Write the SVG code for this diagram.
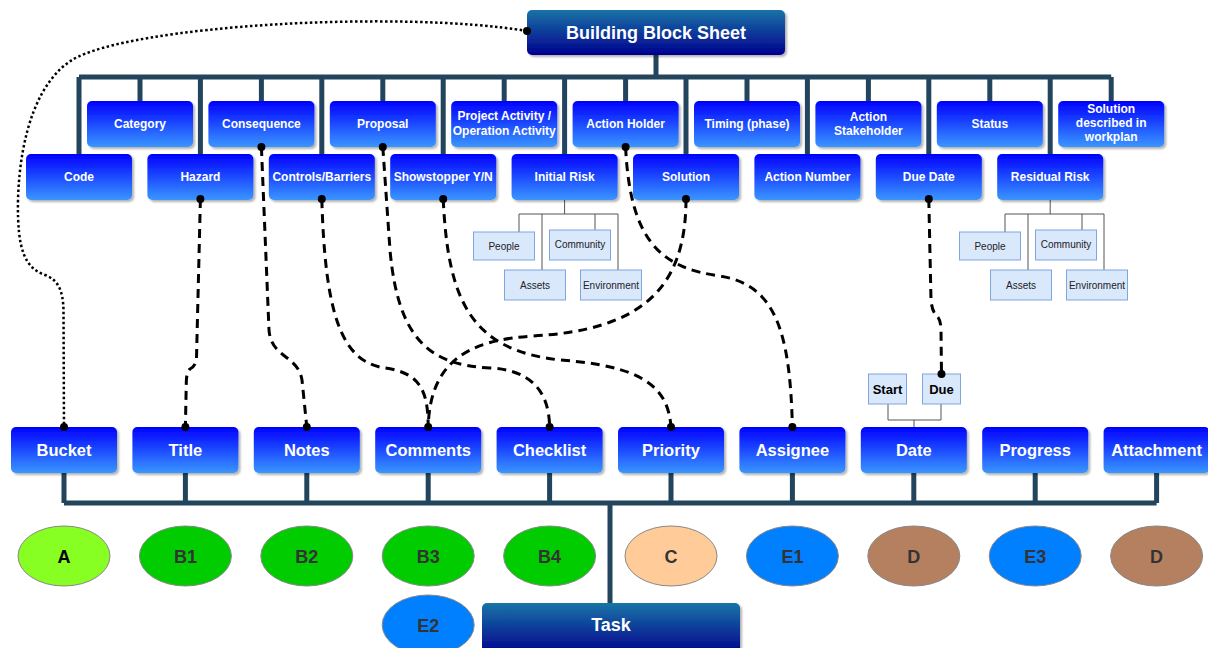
<svg xmlns="http://www.w3.org/2000/svg" width="1208" height="648" viewBox="0 0 1208 648">
<defs>
<linearGradient id="gBlue" x1="0" y1="0" x2="0" y2="1"><stop offset="0" stop-color="#0000ff"/><stop offset="1" stop-color="#3a96ff"/></linearGradient>
<linearGradient id="gHead" x1="0" y1="0" x2="0" y2="1"><stop offset="0" stop-color="#1a74a6"/><stop offset="1" stop-color="#00008e"/></linearGradient>
<filter id="sh" x="-10%" y="-10%" width="130%" height="140%"><feDropShadow dx="2" dy="2" stdDeviation="1" flood-color="#000" flood-opacity="0.3"/></filter>
</defs>
<style>
.n rect{fill:url(#gBlue);filter:url(#sh)}
.n text{fill:#fff;font-family:"Liberation Sans",Arial,sans-serif;font-weight:bold;font-size:12px;text-anchor:middle}
.b text{font-size:16.5px}
.h rect{fill:url(#gHead);filter:url(#sh)}
.h text{fill:#fff;font-family:"Liberation Sans",Arial,sans-serif;font-weight:bold;font-size:18px;text-anchor:middle}
.s rect{fill:#dae8fc;stroke:#7ea6e0;stroke-width:1}
.s text{fill:#222;font-family:"Liberation Sans",Arial,sans-serif;font-size:10px;text-anchor:middle}
.sd text{font-weight:bold;font-size:13px;fill:#000}
.e ellipse{stroke:#888;stroke-width:1}
.e text{fill:#333;font-family:"Liberation Sans",Arial,sans-serif;font-weight:bold;font-size:18px;text-anchor:middle}
.bar{fill:none;stroke:#23445d;stroke-width:5}
.tree{fill:none;stroke:#555;stroke-width:1}
.dash{fill:none;stroke:#000;stroke-width:3;stroke-dasharray:9 6}
.dot{fill:none;stroke:#000;stroke-width:2.5;stroke-dasharray:2.5 2.5}
.pt{fill:#000}
</style>

<g id="bars">
<path class="bar" d="M656 55V77M79 77H1111.2M140 77V101M261.4 77V101M382.8 77V101M504.2 77V101M625.6 77V101M747 77V101M868.4 77V101M989.8 77V101M1111.2 77V101M79 77V154M200.4 77V154M321.8 77V154M443.2 77V154M564.6 77V154M686 77V154M807.4 77V154M928.8 77V154M1050.2 77V154"/>
<path class="bar" d="M64 473V503M185.4 473V503M306.8 473V503M428.2 473V503M549.6 473V503M671 473V503M792.4 473V503M913.8 473V503M1035.2 473V503M1156.6 473V503M64 503H1156.6M610 503V603"/>
<path class="tree" d="M564.6 199V214M519 214H618M519 214V232M542 214V270M595 214V230M618 214V270"/>
<path class="tree" d="M1050.2 199V214M1005 214H1104M1005 214V232M1028 214V270M1082 214V230M1104 214V270"/>
<path class="tree" d="M888 404V420H941V404M914 420V427"/>
</g>

<g id="header" class="h"><rect x="527" y="10" width="258" height="45" rx="5"/><text x="656" y="39">Building Block Sheet</text></g>

<g id="category" class="n"><rect x="87" y="101" width="106" height="46" rx="5"/><text x="140" y="128">Category</text></g>
<g id="consequence" class="n"><rect x="208.4" y="101" width="106" height="46" rx="5"/><text x="261.4" y="128">Consequence</text></g>
<g id="proposal" class="n"><rect x="329.8" y="101" width="106" height="46" rx="5"/><text x="382.8" y="128">Proposal</text></g>
<g id="project-activity" class="n"><rect x="451.2" y="101" width="106" height="46" rx="5"/><text x="504.2" y="120">Project Activity /</text><text x="504.2" y="135">Operation Activity</text></g>
<g id="action-holder" class="n"><rect x="572.6" y="101" width="106" height="46" rx="5"/><text x="625.6" y="128">Action Holder</text></g>
<g id="timing" class="n"><rect x="694" y="101" width="106" height="46" rx="5"/><text x="747" y="128">Timing (phase)</text></g>
<g id="action-stakeholder" class="n"><rect x="815.4" y="101" width="106" height="46" rx="5"/><text x="868.4" y="121">Action</text><text x="868.4" y="135">Stakeholder</text></g>
<g id="status" class="n"><rect x="936.8" y="101" width="106" height="46" rx="5"/><text x="989.8" y="128">Status</text></g>
<g id="solution-described" class="n"><rect x="1058.2" y="101" width="106" height="46" rx="5"/><text x="1111.2" y="113">Solution</text><text x="1111.2" y="127">described in</text><text x="1111.2" y="141">workplan</text></g>

<g id="code" class="n"><rect x="26" y="154" width="106" height="46" rx="5"/><text x="79" y="181">Code</text></g>
<g id="hazard" class="n"><rect x="147.4" y="154" width="106" height="46" rx="5"/><text x="200.4" y="181">Hazard</text></g>
<g id="controls" class="n"><rect x="268.8" y="154" width="106" height="46" rx="5"/><text x="321.8" y="181">Controls/Barriers</text></g>
<g id="showstopper" class="n"><rect x="390.2" y="154" width="106" height="46" rx="5"/><text x="443.2" y="181">Showstopper Y/N</text></g>
<g id="initial-risk" class="n"><rect x="511.6" y="154" width="106" height="46" rx="5"/><text x="564.6" y="181">Initial Risk</text></g>
<g id="solution" class="n"><rect x="633" y="154" width="106" height="46" rx="5"/><text x="686" y="181">Solution</text></g>
<g id="action-number" class="n"><rect x="754.4" y="154" width="106" height="46" rx="5"/><text x="807.4" y="181">Action Number</text></g>
<g id="due-date" class="n"><rect x="875.8" y="154" width="106" height="46" rx="5"/><text x="928.8" y="181">Due Date</text></g>
<g id="residual-risk" class="n"><rect x="997.2" y="154" width="106" height="46" rx="5"/><text x="1050.2" y="181">Residual Risk</text></g>

<g id="ir-people" class="s"><rect x="473.5" y="232" width="61" height="28"/><text x="504" y="250">People</text></g>
<g id="ir-community" class="s"><rect x="549.5" y="230" width="61" height="30"/><text x="580" y="248">Community</text></g>
<g id="ir-assets" class="s"><rect x="504.5" y="270" width="61" height="30"/><text x="535" y="289">Assets</text></g>
<g id="ir-environment" class="s"><rect x="580.5" y="270" width="61" height="30"/><text x="611" y="289">Environment</text></g>
<g id="rr-people" class="s"><rect x="959.5" y="232" width="61" height="28"/><text x="990" y="250">People</text></g>
<g id="rr-community" class="s"><rect x="1035.5" y="230" width="61" height="30"/><text x="1066" y="248">Community</text></g>
<g id="rr-assets" class="s"><rect x="990.5" y="270" width="61" height="30"/><text x="1021" y="289">Assets</text></g>
<g id="rr-environment" class="s"><rect x="1066.5" y="270" width="61" height="30"/><text x="1097" y="289">Environment</text></g>

<g id="start" class="s sd"><rect x="868.5" y="374" width="38" height="30"/><text x="887.5" y="394">Start</text></g>
<g id="due" class="s sd"><rect x="922.5" y="374" width="38" height="30"/><text x="941.5" y="394">Due</text></g>

<g id="bucket" class="n b"><rect x="11" y="427" width="106" height="46" rx="5"/><text x="64" y="456">Bucket</text></g>
<g id="title" class="n b"><rect x="132.4" y="427" width="106" height="46" rx="5"/><text x="185.4" y="456">Title</text></g>
<g id="notes" class="n b"><rect x="253.8" y="427" width="106" height="46" rx="5"/><text x="306.8" y="456">Notes</text></g>
<g id="comments" class="n b"><rect x="375.2" y="427" width="106" height="46" rx="5"/><text x="428.2" y="456">Comments</text></g>
<g id="checklist" class="n b"><rect x="496.6" y="427" width="106" height="46" rx="5"/><text x="549.6" y="456">Checklist</text></g>
<g id="priority" class="n b"><rect x="618" y="427" width="106" height="46" rx="5"/><text x="671" y="456">Priority</text></g>
<g id="assignee" class="n b"><rect x="739.4" y="427" width="106" height="46" rx="5"/><text x="792.4" y="456">Assignee</text></g>
<g id="date" class="n b"><rect x="860.8" y="427" width="106" height="46" rx="5"/><text x="913.8" y="456">Date</text></g>
<g id="progress" class="n b"><rect x="982.2" y="427" width="106" height="46" rx="5"/><text x="1035.2" y="456">Progress</text></g>
<g id="attachment" class="n b"><rect x="1103.6" y="427" width="106" height="46" rx="5"/><text x="1156.6" y="456">Attachment</text></g>

<g id="ell-a" class="e"><ellipse cx="64" cy="556" rx="46" ry="30" fill="#88ff22"/><text x="64" y="563" fill="#000" style="fill:#000">A</text></g>
<g id="ell-b1" class="e"><ellipse cx="185.4" cy="556" rx="46" ry="30" fill="#00cc00"/><text x="185.4" y="563">B1</text></g>
<g id="ell-b2" class="e"><ellipse cx="306.8" cy="556" rx="46" ry="30" fill="#00cc00"/><text x="306.8" y="563">B2</text></g>
<g id="ell-b3" class="e"><ellipse cx="428.2" cy="556" rx="46" ry="30" fill="#00cc00"/><text x="428.2" y="563">B3</text></g>
<g id="ell-b4" class="e"><ellipse cx="549.6" cy="556" rx="46" ry="30" fill="#00cc00"/><text x="549.6" y="563">B4</text></g>
<g id="ell-c" class="e"><ellipse cx="671" cy="556" rx="46" ry="30" fill="#ffcc99"/><text x="671" y="563">C</text></g>
<g id="ell-e1" class="e"><ellipse cx="792.4" cy="556" rx="46" ry="30" fill="#007fff"/><text x="792.4" y="563">E1</text></g>
<g id="ell-d1" class="e"><ellipse cx="913.8" cy="556" rx="46" ry="30" fill="#b48060"/><text x="913.8" y="563">D</text></g>
<g id="ell-e3" class="e"><ellipse cx="1035.2" cy="556" rx="46" ry="30" fill="#007fff"/><text x="1035.2" y="563">E3</text></g>
<g id="ell-d2" class="e"><ellipse cx="1156.6" cy="556" rx="46" ry="30" fill="#b48060"/><text x="1156.6" y="563">D</text></g>
<g id="ell-e2" class="e"><ellipse cx="428.2" cy="625" rx="46" ry="30" fill="#007fff"/><text x="428.2" y="632">E2</text></g>

<g id="task" class="h"><rect x="482" y="603" width="258" height="52" rx="5"/><text x="611" y="631">Task</text></g>

<g id="connectors">
<path class="dot" d="M527 31C400 10 130 25 72 60C40 80 20 130 18 200C17 250 25 268 45 275C58 280 63 290 63.5 310L64 427"/>
<path class="dash" d="M200.4 199L196.5 358Q196 366 190 369Q186.5 372 186.3 382L185.4 427"/>
<path class="dash" d="M261.4 147L269 330C271 358 298 355 302 380L306.8 427"/>
<path class="dash" d="M321.8 199C325 310 340 362 385 368C420 373 428 390 428.2 427"/>
<path class="dash" d="M686 199C686 290 640 330 533 336C470 340 430 360 428.2 427"/>
<path class="dash" d="M382.8 147L390 250C398 340 430 365 490 368C530 370 549 390 549.6 427"/>
<path class="dash" d="M443.2 199C448 300 470 350 560 360C640 366 668 385 671 427"/>
<path class="dash" d="M625.6 147C630 240 660 268 720 276C775 285 790 330 792.4 427"/>
<path class="dash" d="M928.8 199L931 300Q932 312 937 316Q941 320 941 330L941.5 374"/>
<circle class="pt" cx="527" cy="31" r="4"/><circle class="pt" cx="64" cy="427" r="4"/>
<circle class="pt" cx="200.4" cy="199" r="4"/><circle class="pt" cx="185.4" cy="427" r="4"/>
<circle class="pt" cx="261.4" cy="147" r="4"/><circle class="pt" cx="306.8" cy="427" r="4"/>
<circle class="pt" cx="321.8" cy="199" r="4"/><circle class="pt" cx="428.2" cy="427" r="4"/>
<circle class="pt" cx="686" cy="199" r="4"/>
<circle class="pt" cx="382.8" cy="147" r="4"/><circle class="pt" cx="549.6" cy="427" r="4"/>
<circle class="pt" cx="443.2" cy="199" r="4"/><circle class="pt" cx="671" cy="427" r="4"/>
<circle class="pt" cx="625.6" cy="147" r="4"/><circle class="pt" cx="792.4" cy="427" r="4"/>
<circle class="pt" cx="928.8" cy="199" r="4"/><circle class="pt" cx="941.5" cy="374" r="4"/>
</g>
</svg>
